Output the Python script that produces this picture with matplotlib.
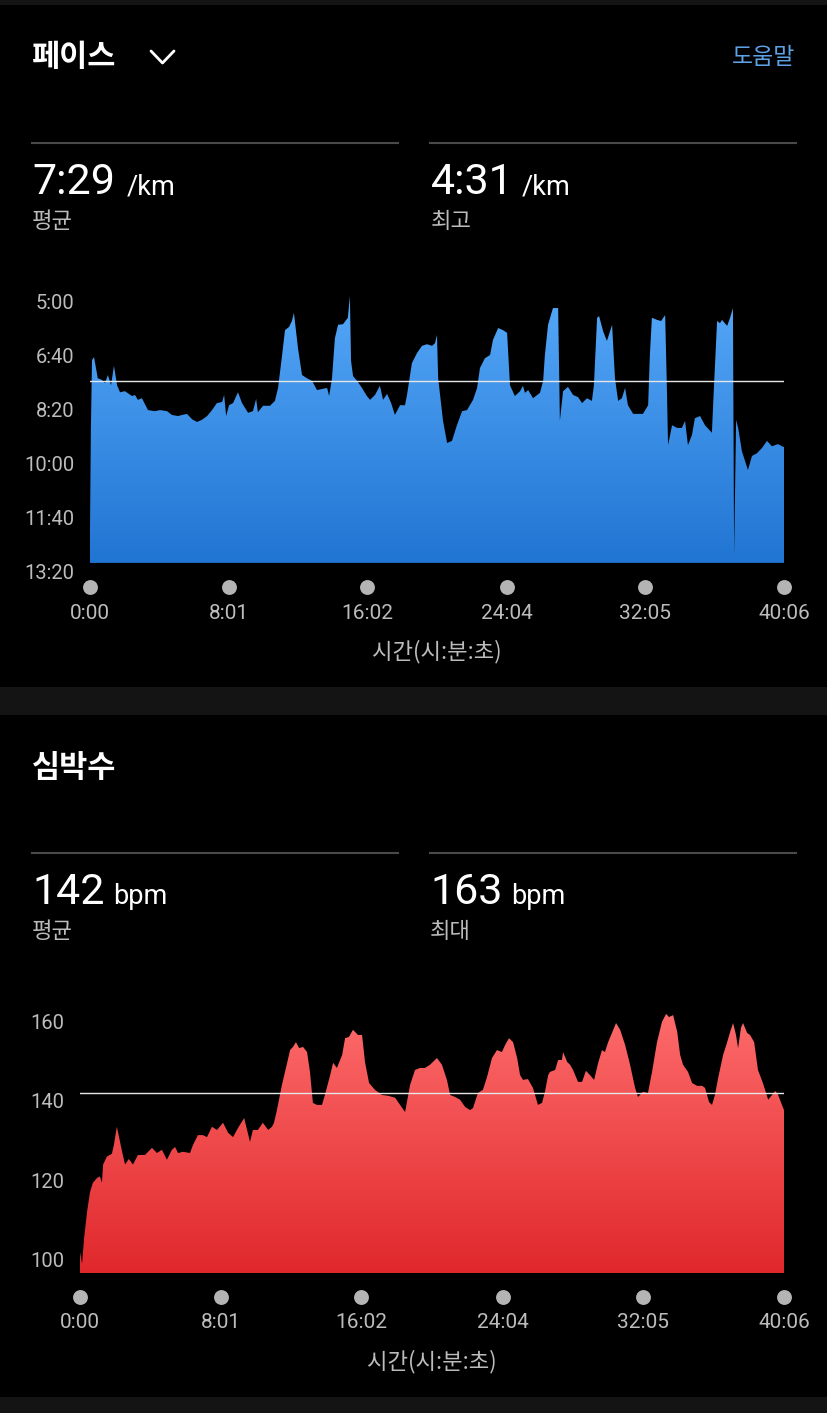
import numpy as np
import matplotlib
matplotlib.use('Agg')
import matplotlib.pyplot as plt
from matplotlib.colors import LinearSegmentedColormap
from matplotlib.patches import Polygon, Rectangle
from matplotlib.lines import Line2D

W, H = 828, 1413

# pace: elapsed seconds -> pace in seconds per km
pace_t = [0, 3, 7, 14, 27, 41, 52, 62, 73, 83, 94, 104, 121, 146, 156, 166, 180, 201, 225, 243,
          267, 284, 305, 319, 336, 354, 371, 388, 406, 423, 440, 458, 465, 472, 482, 496, 513, 527,
          548, 565, 576, 582, 600, 624, 641, 652, 666, 676, 690, 700, 707, 721, 735, 752, 770, 787,
          804, 822, 829, 839, 849, 860, 877, 894, 901, 905, 912, 926, 943, 960, 971, 988, 1005, 1016,
          1030, 1044, 1057, 1075, 1092, 1099, 1116, 1134, 1151, 1168, 1186, 1196, 1203, 1207, 1224,
          1238, 1255, 1272, 1290, 1307, 1328, 1342, 1352, 1369, 1387, 1397, 1415, 1432, 1446, 1456,
          1473, 1491, 1501, 1508, 1519, 1536, 1560, 1571, 1577, 1588, 1605, 1623, 1629, 1640, 1657,
          1675, 1692, 1706, 1723, 1740, 1747, 1758, 1765, 1779, 1792, 1810, 1820, 1831, 1844, 1855,
          1865, 1883, 1900, 1917, 1935, 1941, 1948, 1966, 1980, 1994, 2000, 2004, 2018, 2035, 2052,
          2063, 2073, 2087, 2097, 2115, 2132, 2156, 2163, 2174, 2184, 2191, 2209, 2219, 2229, 2233,
          2240, 2247, 2260, 2281, 2295, 2312, 2330, 2347, 2364, 2385, 2403, 2406]
pace_s = [724, 539, 409, 404, 443, 446, 452, 437, 456, 420, 456, 469, 467, 476, 474, 483, 480, 502, 504, 502,
          504, 511, 513, 511, 509, 519, 524, 520, 513, 502, 489, 487, 474, 513, 493, 489, 469, 489,
          507, 504, 481, 506, 494, 494, 485, 461, 400, 354, 348, 337, 322, 387, 437, 443, 448, 465,
          463, 461, 476, 443, 369, 344, 343, 331, 291, 411, 439, 448, 461, 476, 483, 474, 457, 483,
          472, 489, 511, 493, 493, 474, 415, 396, 383, 380, 383, 378, 363, 443, 522,
          563, 559, 530, 504, 502, 483, 461, 424, 406, 400, 372, 350, 354, 359, 456,
          476, 467, 457, 470, 465, 480, 470, 448, 400, 344, 313, 313, 522, 467, 459,
          474, 478, 489, 480, 485, 456, 331, 328, 356, 374, 344, 443, 485, 480, 461,
          493, 509, 509, 509, 493, 400, 331, 335, 337, 326, 461, 567, 530, 535, 535,
          522, 567, 548, 517, 513, 530, 544, 461, 337, 341, 335, 346, 331, 313, 770,
          520, 535, 578, 613, 587, 582, 572, 559, 569, 565, 570, 570]
pace_avg = 449
pace_ticks = [300, 400, 500, 600, 700, 800]
pace_labels = ['5:00', '6:40', '8:20', '10:00', '11:40', '13:20']

# heart rate: elapsed seconds -> bpm
hr_t = [0, 7, 14, 24, 34, 44, 58, 68, 75, 79, 92, 109, 116, 126, 144, 154, 167, 181, 198, 222,
        246, 263, 280, 297, 314, 325, 335, 352, 376, 386, 403, 420, 434, 451, 468, 489, 506, 523,
        540, 561, 581, 591, 608, 625, 643, 656, 663, 673, 690, 708, 718, 728, 738, 749, 762, 776,
        786, 796, 810, 827, 837, 855, 865, 878, 896, 906, 919, 933, 950, 964, 974, 988, 1008, 1032,
        1053, 1077, 1094, 1111, 1128, 1145, 1162, 1179, 1196, 1220, 1237, 1254, 1265, 1282, 1299,
        1316, 1333, 1343, 1360, 1377, 1391, 1408, 1425, 1442, 1453, 1466, 1480, 1494, 1504, 1514,
        1531, 1548, 1565, 1579, 1589, 1600, 1606, 1624, 1634, 1647, 1651, 1665, 1675, 1685, 1702,
        1716, 1729, 1743, 1757, 1771, 1784, 1794, 1805, 1818, 1832, 1846, 1863, 1880, 1897, 1907,
        1924, 1941, 1955, 1972, 1989, 2003, 2013, 2027, 2041, 2051, 2061, 2078, 2092, 2109, 2126,
        2136, 2150, 2160, 2170, 2181, 2198, 2211, 2222, 2232, 2242, 2249, 2259, 2266, 2280, 2290,
        2304, 2317, 2334, 2352, 2365, 2376, 2386, 2399, 2406]
hr_bpm = [102, 99, 105.5, 112, 117, 119.4, 120.6, 121, 119.4, 124, 126, 126.7, 129, 133.5, 127.2, 124, 125.4, 124, 126.4, 126.4,
          128.2, 126.9, 127.7, 125.2, 127.7, 128.4, 126.9, 127.2, 126.9, 128.9, 131.4, 131.4, 130.9, 133.5, 132.7, 134.5, 132, 130.9,
          133.2, 135.7, 129.7, 132.7, 132.7, 134.5, 132.7, 133.5, 134.5, 137.7, 144, 149.6, 152.8, 153.6, 154.8, 153.3, 153.6, 152.3,
          147.3, 139.5, 139, 139, 141.5, 146.5, 149.6, 148.3, 151.6, 155.8, 156.1, 157.9, 156.6, 156.6, 149.8, 144.5, 142.8, 141.5,
          141.3, 140.8, 139, 137.2, 144, 147.8, 148.3, 148.3, 149.1, 150.8, 149.1, 145.3, 141.5, 141, 140.3,
          138.5, 137.7, 138.2, 142, 142.8, 146, 150.8, 152.8, 152.3, 154.1, 155.8, 154.8, 150.8, 146.5, 145.3,
          145.5, 143.3, 139, 139.5, 142.3, 146.5, 147.3, 147.8, 150.3, 150.3, 152.3, 149.8, 149.1, 147.8, 144.8,
          144.8, 147.6, 146.5, 145.3, 149.6, 152.8, 152.3, 154.8, 157.1, 159.6, 157.9, 154.1, 149.1, 143.3, 141,
          142.3, 142, 147.3, 154.8, 159.9, 161.9, 161.1, 161.6, 157.4, 151.6, 149.1, 147.3, 144.5, 143.8, 143.8,
          143.3, 139.7, 139, 141.5, 145.8, 151.6, 154.6, 157.4, 159.6, 156.6, 153.3, 158.4, 159.6, 157.1, 156.6,
          154.8, 147.8, 144.5, 140.3, 141.5, 142.5, 141.5, 139, 137.7]
hr_avg = 142
hr_ticks = [100, 120, 140, 160]
hr_labels = ['100', '120', '140', '160']

time_ticks = [0, 481, 962, 1444, 1925, 2406]
time_labels = ['0:00', '8:01', '16:02', '24:04', '32:05', '40:06']

KR = ['Noto Sans CJK KR', 'DejaVu Sans']
NUM = ['Roboto', 'Noto Sans CJK KR', 'DejaVu Sans']
GRAY = '#bcbcbc'


def fx(x):
    return x / W


def fy(y):
    return 1 - y / H


fig = plt.figure(figsize=(W / 100, H / 100), dpi=100, facecolor='black')

# dark separator bands
for y0, y1 in [(0, 5), (687, 715), (1397, 1413)]:
    fig.patches.append(Rectangle((0, fy(y1)), 1, (y1 - y0) / H, transform=fig.transFigure,
                                 facecolor='#141414', edgecolor='none'))


def hline(y, x0, x1, color='#4a4a4a', lw=1.5):
    fig.add_artist(Line2D([fx(x0), fx(x1)], [fy(y), fy(y)], color=color, lw=lw,
                          transform=fig.transFigure))


def stat_block(x, y_base, value, unit, unit_x, caption):
    fig.text(fx(x), fy(y_base), value, va='baseline', ha='left', color='white',
             size=31, family=NUM)
    fig.text(fx(unit_x), fy(y_base), unit, va='baseline', ha='left', color='white',
             size=19.5, family=NUM)
    fig.text(fx(x), fy(y_base + 27), caption, va='center', ha='left', color=GRAY,
             size=16, family=KR)


def area_chart(rect, t, v, ylim, base, colors, avg, yticks, ylabels, dot_y):
    ax = fig.add_axes(rect)
    ax.set_facecolor('black')
    t = np.asarray(t, float)
    v = np.asarray(v, float)
    verts = np.column_stack([np.r_[t[0], t, t[-1]], np.r_[base, v, base]])
    poly = Polygon(verts, closed=True, facecolor='none', edgecolor='none')
    ax.add_patch(poly)
    cmap = LinearSegmentedColormap.from_list('grad', colors)
    grad = np.linspace(0, 1, 256).reshape(-1, 1)
    im = ax.imshow(grad, cmap=cmap, aspect='auto', origin='upper',
                   extent=[t[0], t[-1], ylim[0], ylim[1]], zorder=1, interpolation='bilinear')
    im.set_clip_path(poly)
    ax.axhline(avg, color='#e6e6e6', lw=1, zorder=3)
    ax.set_xlim(t[0], t[-1])
    ax.set_ylim(*ylim)
    for s in ax.spines.values():
        s.set_visible(False)
    ax.set_yticks(yticks, ylabels)
    ax.set_xticks(time_ticks, time_labels)
    ax.tick_params(axis='y', length=0, pad=11, labelsize=14.5, labelcolor=GRAY)
    ax.tick_params(axis='x', length=0, labelsize=15, labelcolor=GRAY)
    for lab in ax.get_yticklabels() + ax.get_xticklabels():
        lab.set_family(NUM)
    ax.scatter(time_ticks, [dot_y] * len(time_ticks), transform=ax.get_xaxis_transform(),
               s=115, color='#b4b4b4', linewidths=0, clip_on=False, zorder=5)
    return ax


# ---- pace section ----
fig.text(fx(32), fy(57), '페이스', va='center', ha='left', color='white', size=22,
         family=KR, weight='bold')
fig.add_artist(Line2D([fx(151), fx(162.5), fx(174)], [fy(51), fy(63), fy(51)], color='white',
                      lw=2, transform=fig.transFigure, solid_capstyle='round'))
fig.text(fx(795), fy(57), '도움말', va='center', ha='right', color='#5ea2e6', size=16.5, family=KR)
hline(143, 32, 398)
hline(143, 430, 796)
stat_block(32, 194, '7:29', '/km', 127, '평균')
stat_block(431, 194, '4:31', '/km', 522, '최고')

ax1 = area_chart([fx(90), fy(575), 694 / W, 285 / H], pace_t, pace_s, (807.4, 279.6), 785,
                 ['#55a8f8', '#1f73d1'], pace_avg, pace_ticks, pace_labels, -12 / 285)
ax1.tick_params(axis='x', pad=21)
fig.text(fx(437), fy(652), '시간(시:분:초)', ha='center', va='center', color=GRAY, size=16, family=KR)

# ---- heart rate section ----
fig.text(fx(32), fy(768), '심박수', va='center', ha='left', color='white', size=22,
         family=KR, weight='bold')
hline(853, 32, 398)
hline(853, 430, 796)
stat_block(32, 904, '142', 'bpm', 113, '평균')
stat_block(430, 904, '163', 'bpm', 511, '최대')

ax2 = area_chart([fx(80), fy(1273), 704 / W, 273 / H], hr_t, hr_bpm, (96.7, 165.4), 96.7,
                 ['#ff6e6e', '#e0282c'], hr_avg, hr_ticks, hr_labels, -24 / 273)
ax2.tick_params(axis='x', pad=29)
fig.text(fx(432), fy(1362), '시간(시:분:초)', ha='center', va='center', color=GRAY, size=16, family=KR)

fig.savefig('out.png', dpi=100, facecolor='black')
